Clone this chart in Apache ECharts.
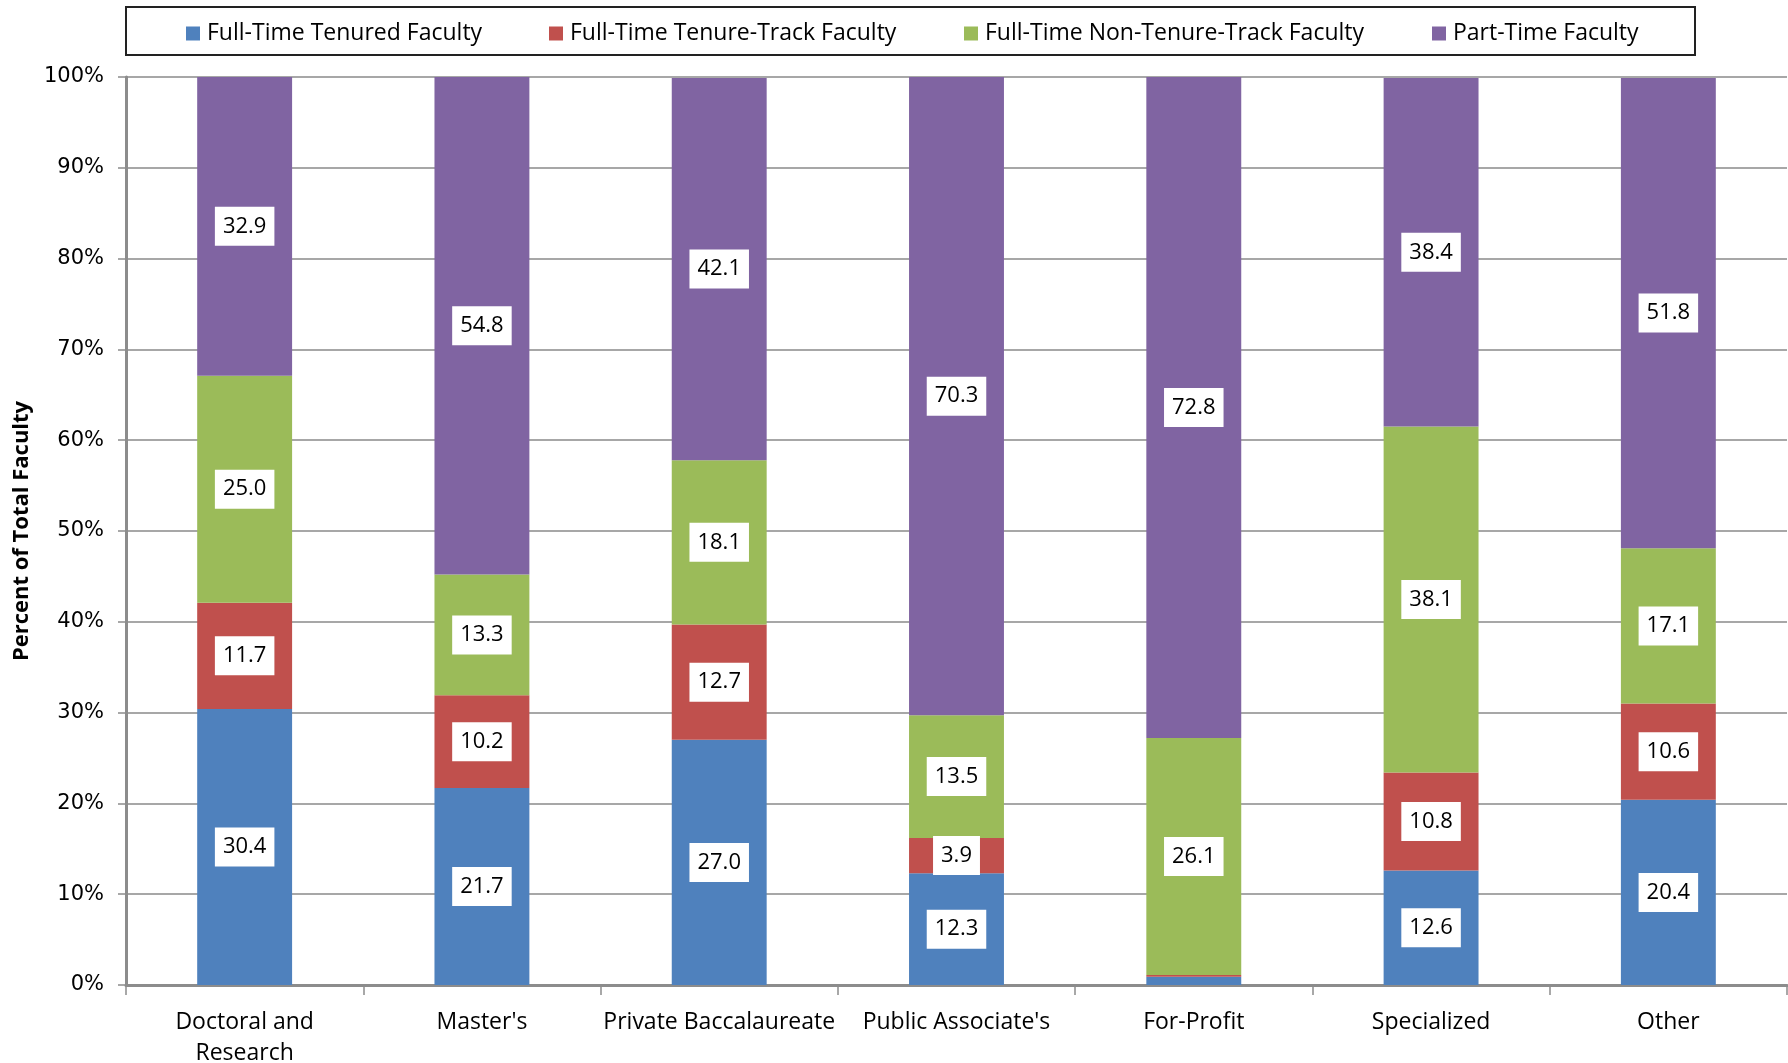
<!DOCTYPE html>
<html>
<head>
<meta charset="utf-8">
<script src="https://cdn.jsdelivr.net/npm/echarts@6/dist/echarts.min.js"></script>
<style>
html,body{margin:0;padding:0;background:#fff;}
#chart{width:1788px;height:1063px;}
</style>
</head>
<body>
<div id="chart"></div>
<script>
var categories = ["Doctoral and\nResearch", "Master's", "Private Baccalaureate", "Public Associate's", "For-Profit", "Specialized", "Other"];
var seriesNames = ["Full-Time Tenured Faculty", "Full-Time Tenure-Track Faculty", "Full-Time Non-Tenure-Track Faculty", "Part-Time Faculty"];
var tenured = [30.4, 21.7, 27.0, 12.3, 0.9, 12.6, 20.4];
var tenureTrack = [11.7, 10.2, 12.7, 3.9, 0.2, 10.8, 10.6];
var nonTenureTrack = [25.0, 13.3, 18.1, 13.5, 26.1, 38.1, 17.1];
var partTime = [32.9, 54.8, 42.1, 70.3, 72.8, 38.4, 51.8];
var colors = ["#4F81BD", "#C0504D", "#9BBB59", "#8064A2"];
var yTicks = [0, 10, 20, 30, 40, 50, 60, 70, 80, 90, 100];

var FONT = "Open Sans";
var allData = [tenured, tenureTrack, nonTenureTrack, partTime];

var series = allData.map(function (arr, i) {
  return {
    name: seriesNames[i],
    type: 'bar',
    stack: 'total',
    barWidth: '40%',
    itemStyle: { color: colors[i] },
    label: {
      show: true,
      position: 'inside',
      formatter: function (p) { return p.value.toFixed(1); },
      backgroundColor: '#fff',
      color: '#000',
      fontFamily: FONT,
      fontSize: 22,
      padding: [9, 8, 8, 8]
    },
    data: arr.map(function (v) {
      return v < 1 ? { value: v, label: { show: false } } : v;
    })
  };
});

var legendX = [186, 549, 964, 1432];
var legends = seriesNames.map(function (n, i) {
  return {
    data: [n],
    left: legendX[i],
    top: 22,
    padding: 0,
    itemWidth: 14,
    itemHeight: 14,
    itemGap: 0,
    icon: 'rect',
    textStyle: { fontFamily: FONT, fontSize: 23, color: '#000', padding: [0, 0, 0, 2] }
  };
});

var chart = echarts.init(document.getElementById('chart'));
chart.setOption({
  animation: false,
  backgroundColor: '#fff',
  color: colors,
  graphic: [{
    type: 'rect',
    z: -1,
    shape: { x: 126, y: 7, width: 1569, height: 48 },
    style: { fill: '#fff', stroke: '#222', lineWidth: 2 }
  }],
  legend: legends,
  grid: { left: 126, right: 1, top: 77, bottom: 78, containLabel: false, outerBoundsMode: 'none' },
  xAxis: {
    type: 'category',
    data: categories,
    axisLine: { lineStyle: { color: '#8c8c8c', width: 3 } },
    axisTick: { show: true, length: 10, lineStyle: { color: '#8c8c8c', width: 1.5 } },
    axisLabel: { fontFamily: FONT, fontSize: 23, color: '#000', margin: 22, lineHeight: 31, interval: 0 }
  },
  yAxis: {
    type: 'value',
    min: 0,
    max: 100,
    interval: 10,
    name: 'Percent of Total Faculty',
    nameLocation: 'middle',
    nameGap: 91,
    nameTextStyle: { fontFamily: FONT, fontSize: 22, fontWeight: 'bold', color: '#000' },
    axisLine: { show: true, lineStyle: { color: '#8c8c8c', width: 3 } },
    axisTick: { show: true, length: 8, lineStyle: { color: '#8c8c8c', width: 1.5 } },
    axisLabel: {
      fontFamily: 'DejaVu Sans', fontSize: 21, color: '#000', margin: 22,
      formatter: function (v) { return yTicks.indexOf(v) >= 0 ? v + '%' : ''; }
    },
    splitLine: { show: true, lineStyle: { color: '#8a8a8a', width: 1.5 } }
  },
  series: series
});
</script>
</body>
</html>
